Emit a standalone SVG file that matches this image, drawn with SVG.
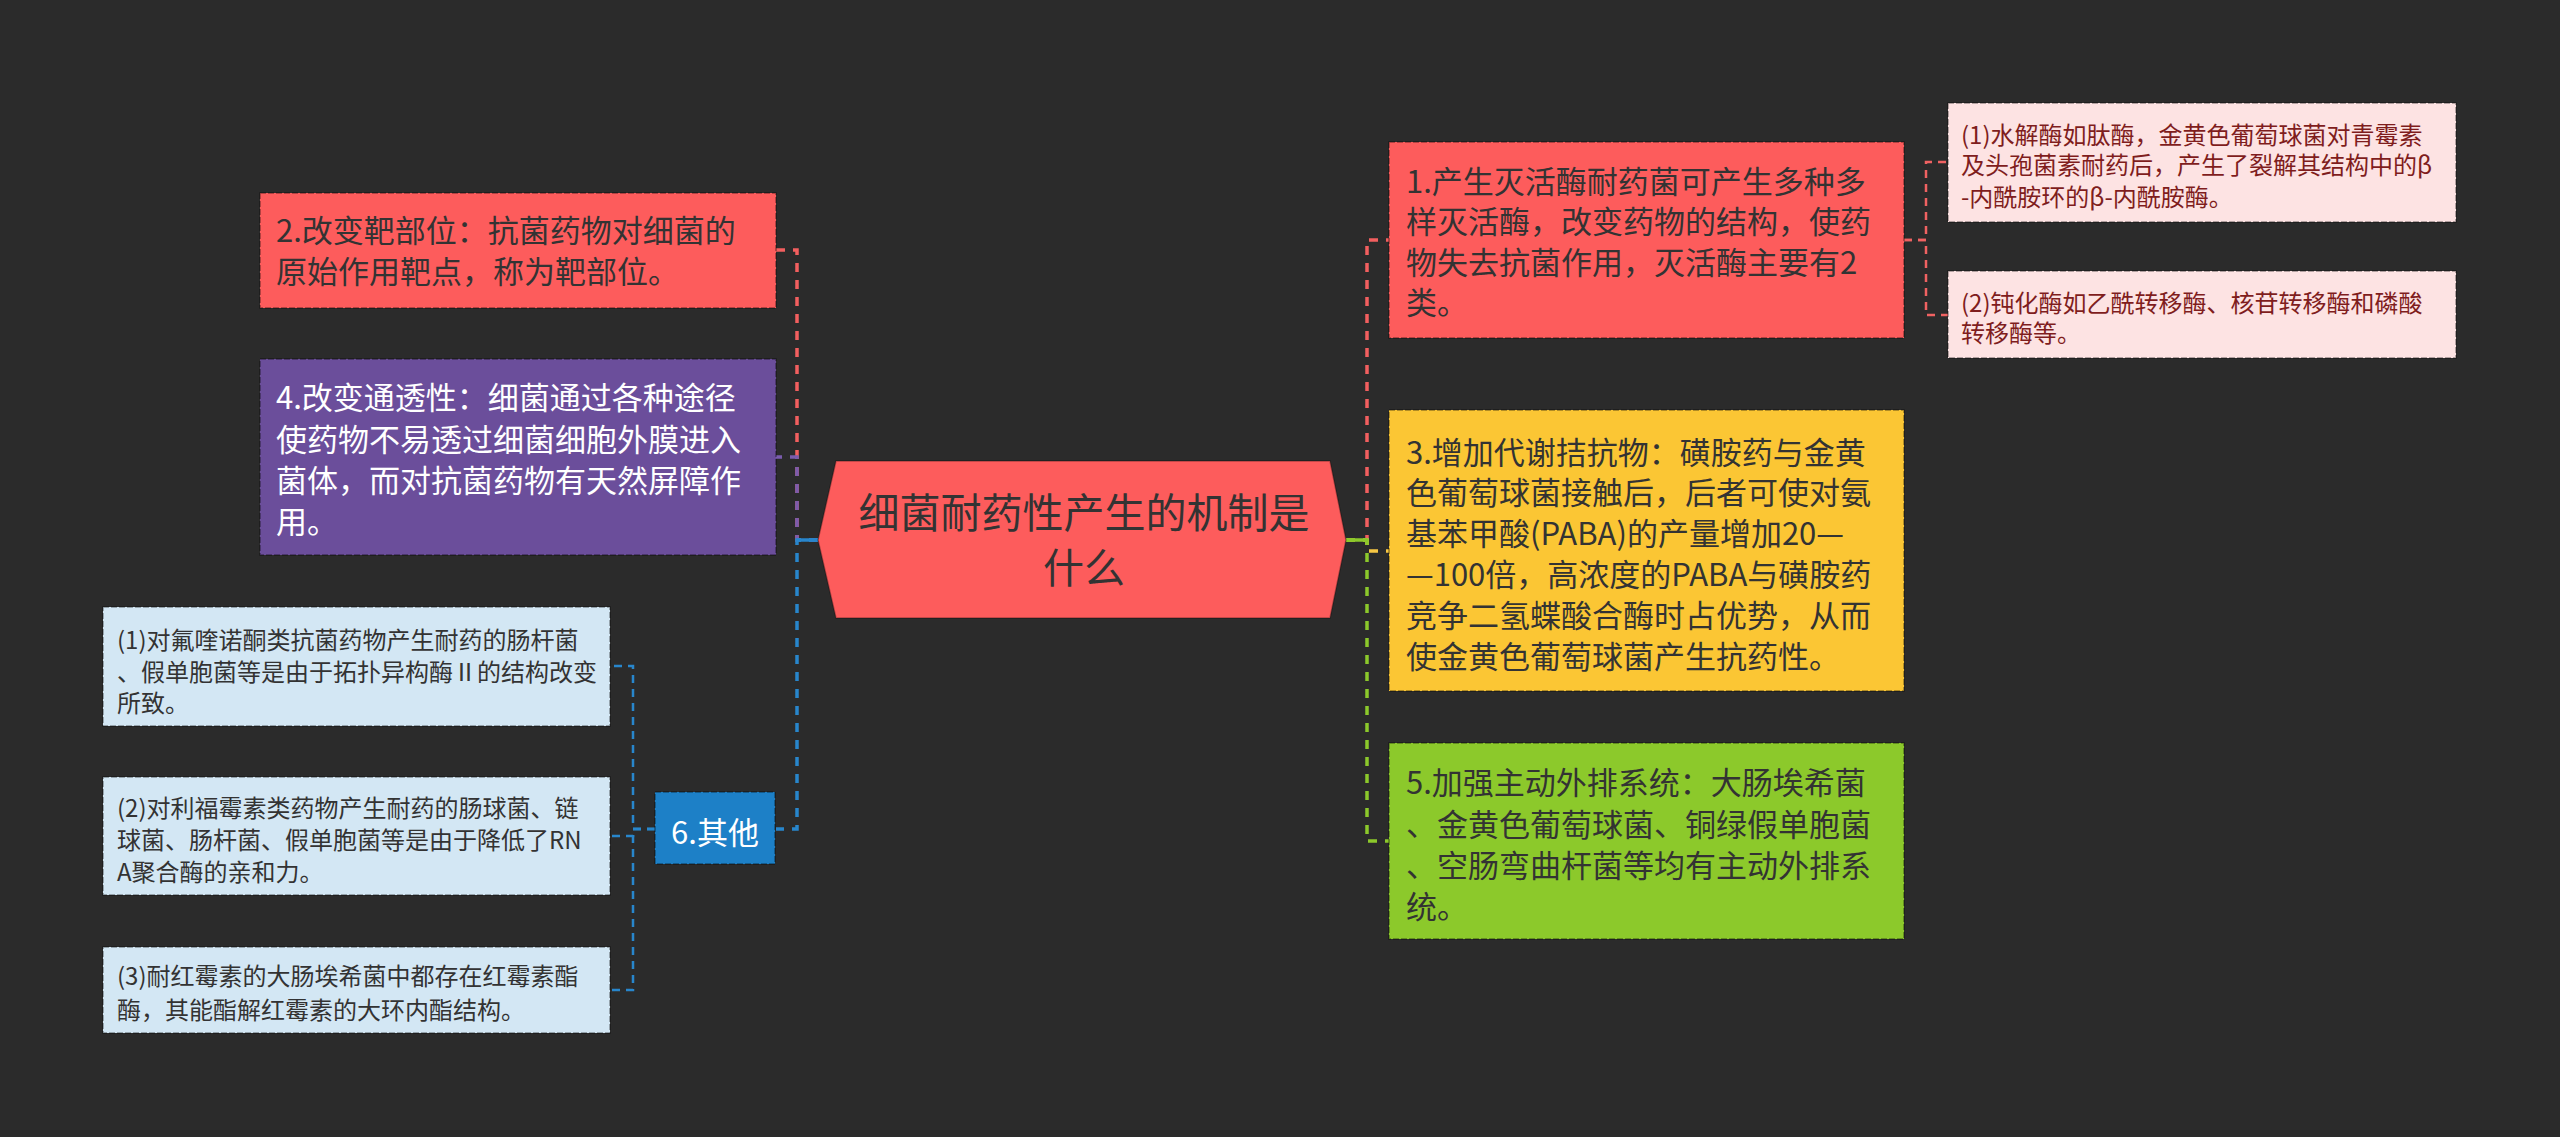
<svg xmlns="http://www.w3.org/2000/svg" width="2560" height="1137" viewBox="0 0 2560 1137">
<style>
text{font-family:"Noto Sans CJK SC","Noto Sans",sans-serif;}
.t31{font-size:31px;}
.t24{font-size:24px;}
.dark{fill:#333333;}
.white{fill:#ffffff;}
.box{stroke:#000;stroke-opacity:0.4;stroke-width:1.5;stroke-dasharray:6 2;}
.conn{fill:none;stroke-width:3.5;stroke-dasharray:9 8;}
.sub{fill:none;stroke-width:2.5;stroke-dasharray:8 6;}
</style>
<rect x="0" y="0" width="2560" height="1137" fill="#2b2b2b"/>
<g id="connectors">
<path class="conn" stroke="#f25f5f" d="M818,540 H797 V250 H776"/>
<path class="conn" stroke="#7a5cad" d="M818,540 H797 V457 H776"/>
<path class="conn" stroke="#2886cc" d="M818,540 H797 V829 H776"/>
<path fill="none" stroke="#2886cc" stroke-width="3.5" d="M818,540 H797"/>
<path class="conn" stroke="#f25f5f" d="M1346,540 H1367 V240 H1389"/>
<path class="conn" stroke="#f7c744" d="M1346,540 H1367 V551 H1389"/>
<path class="conn" stroke="#8cc92b" d="M1346,540 H1367 V841 H1389"/>
<path fill="none" stroke="#8cc92b" stroke-width="3.5" d="M1346,540 H1367"/>
<path class="sub" stroke="#f06262" d="M1904,240 H1926 V162 H1948"/>
<path class="sub" stroke="#f06262" d="M1904,240 H1926 V315 H1948"/>
<path class="sub" stroke="#2886cc" d="M655,829 H633 V666 H610"/>
<path class="sub" stroke="#2886cc" d="M655,829 H633 V836 H610"/>
<path class="sub" stroke="#2886cc" d="M655,829 H633 V990 H610"/>
</g>
<g id="root">
<polygon points="818,540 836,461 1330,461 1346,540 1330,618 836,618" fill="#fd5c5c" stroke="#000" stroke-opacity="0.3" stroke-width="1.5"/>
<text x="1084" y="528" font-size="41" text-anchor="middle" class="dark">细菌耐药性产生的机制是</text>
<text x="1084" y="583" font-size="41" text-anchor="middle" class="dark">什么</text>
</g>
<g id="node2">
<rect class="box" x="260" y="193" width="516" height="115" fill="#fd5c5c"/>
<text class="t31 dark"><tspan x="276" y="242">2.改变靶部位：抗菌药物对细菌的</tspan><tspan x="276" y="283">原始作用靶点，称为靶部位。</tspan></text>
</g>
<g id="node4">
<rect class="box" x="260" y="359" width="516" height="196" fill="#6b4e9b"/>
<text class="t31 white"><tspan x="276" y="409">4.改变通透性：细菌通过各种途径</tspan><tspan x="276" y="451">使药物不易透过细菌细胞外膜进入</tspan><tspan x="276" y="492">菌体，而对抗菌药物有天然屏障作</tspan><tspan x="276" y="533">用。</tspan></text>
</g>
<g id="node6">
<rect class="box" x="655" y="792" width="120" height="72" fill="#1d80c7"/>
<text x="715" y="844" font-size="31" text-anchor="middle" class="white">6.其他</text>
</g>
<g id="node6a">
<rect class="box" x="103" y="607" width="507" height="119" fill="#d3e7f4"/>
<text class="t24 dark"><tspan x="117" y="649">(1)对氟喹诺酮类抗菌药物产生耐药的肠杆菌</tspan><tspan x="117" y="681">、假单胞菌等是由于拓扑异构酶Ⅱ的结构改变</tspan><tspan x="117" y="712">所致。</tspan></text>
</g>
<g id="node6b">
<rect class="box" x="103" y="777" width="507" height="118" fill="#d3e7f4"/>
<text class="t24 dark"><tspan x="117" y="817">(2)对利福霉素类药物产生耐药的肠球菌、链</tspan><tspan x="117" y="849">球菌、肠杆菌、假单胞菌等是由于降低了RN</tspan><tspan x="117" y="881">A聚合酶的亲和力。</tspan></text>
</g>
<g id="node6c">
<rect class="box" x="103" y="947" width="507" height="86" fill="#d3e7f4"/>
<text class="t24 dark"><tspan x="117" y="985">(3)耐红霉素的大肠埃希菌中都存在红霉素酯</tspan><tspan x="117" y="1019">酶，其能酯解红霉素的大环内酯结构。</tspan></text>
</g>
<g id="node1">
<rect class="box" x="1389" y="142" width="515" height="196" fill="#fd5c5c"/>
<text class="t31 dark"><tspan x="1406" y="193">1.产生灭活酶耐药菌可产生多种多</tspan><tspan x="1406" y="233">样灭活酶，改变药物的结构，使药</tspan><tspan x="1406" y="274">物失去抗菌作用，灭活酶主要有2</tspan><tspan x="1406" y="314">类。</tspan></text>
</g>
<g id="node1a">
<rect class="box" x="1948" y="103" width="508" height="119" fill="#fde3e3"/>
<text class="t24" fill="#7f1d1d"><tspan x="1961" y="144">(1)水解酶如肽酶，金黄色葡萄球菌对青霉素</tspan><tspan x="1961" y="174">及头孢菌素耐药后，产生了裂解其结构中的β</tspan><tspan x="1961" y="206">-内酰胺环的β-内酰胺酶。</tspan></text>
</g>
<g id="node1b">
<rect class="box" x="1948" y="271" width="508" height="87" fill="#fde3e3"/>
<text class="t24" fill="#7f1d1d"><tspan x="1961" y="312">(2)钝化酶如乙酰转移酶、核苷转移酶和磷酸</tspan><tspan x="1961" y="342">转移酶等。</tspan></text>
</g>
<g id="node3">
<rect class="box" x="1389" y="410" width="515" height="281" fill="#fbc634"/>
<text class="t31 dark"><tspan x="1406" y="464">3.增加代谢拮抗物：磺胺药与金黄</tspan><tspan x="1406" y="504">色葡萄球菌接触后，后者可使对氨</tspan><tspan x="1406" y="545">基苯甲酸(PABA)的产量增加20—</tspan><tspan x="1406" y="586">—100倍，高浓度的PABA与磺胺药</tspan><tspan x="1406" y="627">竞争二氢蝶酸合酶时占优势，从而</tspan><tspan x="1406" y="668">使金黄色葡萄球菌产生抗药性。</tspan></text>
</g>
<g id="node5">
<rect class="box" x="1389" y="743" width="515" height="196" fill="#8cc92b"/>
<text class="t31 dark"><tspan x="1406" y="794">5.加强主动外排系统：大肠埃希菌</tspan><tspan x="1406" y="836">、金黄色葡萄球菌、铜绿假单胞菌</tspan><tspan x="1406" y="877">、空肠弯曲杆菌等均有主动外排系</tspan><tspan x="1406" y="918">统。</tspan></text>
</g>
</svg>
